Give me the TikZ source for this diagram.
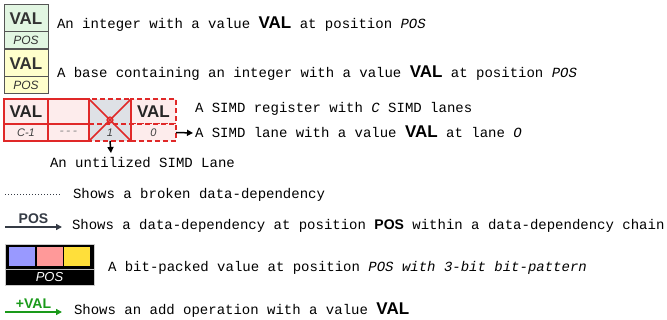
\documentclass[tikz,border=0pt]{standalone}
\usepackage{fontspec}
\setmainfont{Liberation Mono}
\newfontfamily\sansf{Liberation Sans}
\usetikzlibrary{arrows.meta,calc}
\definecolor{gfill}{HTML}{E2F6E2}
\definecolor{yfill}{HTML}{FFFFCC}
\definecolor{boxdraw}{HTML}{555555}
\definecolor{simdred}{HTML}{E02828}
\definecolor{simdfill}{HTML}{FDECEC}
\definecolor{lanegray}{HTML}{DEE1E6}
\definecolor{depcol}{HTML}{353B45}
\definecolor{addgreen}{HTML}{1A9A1A}
\definecolor{bitblue}{HTML}{9999FF}
\definecolor{bitpink}{HTML}{FF9999}
\definecolor{bityellow}{HTML}{FFDF3A}
\newcommand{\valtxt}{{\sansf\bfseries\fontsize{17}{17}\selectfont VAL}}
\newcommand{\postxt}{{\sansf\itshape\fontsize{12}{12}\selectfont POS}}
\begin{document}
\begin{tikzpicture}[x=1pt,y=-1pt,
  every node/.style={inner sep=0pt, outer sep=0pt},
  txt/.style={anchor=base west, font=\fontsize{14}{16}\selectfont},
  valcell/.style={draw=boxdraw, line width=1pt, minimum width=44pt, minimum height=27pt, anchor=north west, text=black!80},
  poscell/.style={draw=boxdraw, line width=1pt, minimum width=44pt, minimum height=17pt, anchor=north, text=black!80},
  lanetop/.style={minimum width=#1, minimum height=25pt, anchor=north west, fill=simdfill, text=black!85},
  lanebot/.style={minimum width=#1, minimum height=17pt, anchor=north, fill=simdfill, font=\sansf\itshape\fontsize{11}{11}\selectfont, text=black!75},
  solidlane/.style={draw=simdred, line width=2pt},
  dashlane/.style={draw=simdred, line width=1.6pt, dash pattern=on 5pt off 3pt},
  arr/.style={-{Triangle[length=6pt,width=6pt]}, line width=1.5pt},
  bitsq/.style={minimum width=26pt, minimum height=19pt, anchor=north west}
]
\useasboundingbox (0,0) rectangle (667,320);

% integer box
\node[valcell, fill=gfill] (g1) at (4,5) {\valtxt};
\node[poscell, fill=gfill] (g2) at (g1.south) {\postxt};
\node[txt] (t1) at (57,29) {An integer with a value \valtxt{} at position \textit{POS}};

% base box
\node[valcell, fill=yfill] (y1) at (4,50) {\valtxt};
\node[poscell, fill=yfill] (y2) at (y1.south) {\postxt};
\node[txt] (t2) at (57,78) {A base containing an integer with a value \valtxt{} at position \textit{POS}};

% SIMD register
\node[lanetop=44pt, solidlane] (c1) at (4,99) {\valtxt};
\node[lanebot=44pt, solidlane] (c1b) at (c1.south) {C-1};
\node[lanetop=41pt, solidlane] (cd) at (48,99) {};
\node[lanebot=41pt, solidlane, text=black!50, font=\itshape\fontsize{11}{11}\selectfont] (cdb) at (cd.south) {{-}{-}{-}};
\node[lanetop=42pt, fill=lanegray] (l1) at (89,99) {};
\node[lanebot=42pt, fill=lanegray] (l1b) at (l1.south) {1};
\node[lanetop=45pt, dashlane] (l0) at (131,99) {\valtxt};
\node[lanebot=45pt, dashlane] (l0b) at (l0.south) {0};
\draw[dashlane] (l1.north west) rectangle (l1b.south east);
\draw[simdred, line width=1.2pt, dash pattern=on 5pt off 3pt] (l1.south west) -- (l1.south east);
\draw[simdred, line width=1.6pt] (l1.north west) -- (l1b.south east);
\draw[simdred, line width=1.6pt] (l1.north east) -- (l1b.south west);
\node[draw=simdred, line width=1.2pt, circle, minimum size=6pt] (xc) at ($(l1.north west)!0.5!(l1b.south east)$) {};
\draw[simdred, line width=2pt] (c1.north west) rectangle (cdb.south east);

\coordinate (a1) at (193,133);
\draw[arr] (l0b.east) -- (a1);
\node[txt] (t3) at (195,113) {A SIMD register with \textit{C} SIMD lanes};
\node[txt] (t4) at (195,138) {A SIMD lane with a value \valtxt{} at lane \textit{O}};
\coordinate (a2) at (111,153);
\draw[arr] (l1b.south) -- (a2);
\node[txt] (t5) at (50,168) {An untilized SIMD Lane};

% broken dependency
\coordinate (d1) at (5,195);
\coordinate (d2) at (60,195);
\draw[depcol, line width=1pt, dotted] (d1) -- (d2);
\node[txt] (t6) at (73,199) {Shows a broken data-dependency};

% dependency at position
\coordinate (p1) at (5,227);
\coordinate (p2) at (62,227);
\draw[arr, depcol] (p1) -- node[above=3pt, text=depcol, font=\sansf\bfseries\fontsize{14}{14}\selectfont] (pl) {POS} (p2);
\node[txt] (t7) at (72,230) {Shows a data-dependency at position {\sansf\bfseries POS} within a data-dependency chain};

% bit-packed value
\node[draw=black!20, line width=1pt, fill=black, minimum width=89pt, minimum height=41pt, anchor=north west] (bp) at (5,245) {};
\node[bitsq, fill=bitblue] (b1) at (9,247) {};
\node[bitsq, fill=bitpink] (b2) at (37,247) {};
\node[bitsq, fill=bityellow] (b3) at (64,247) {};
\draw[black!25, line width=0.8pt] (bp.west |- 0,269) -- (bp.east |- 0,269);
\node[text=white, font=\sansf\itshape\fontsize{13}{13}\selectfont] (bpl) at (49.5,277.5) {POS};
\node[txt] (t8) at (108,272) {A bit-packed value at position \textit{POS with 3-bit bit-pattern}};

% add operation
\coordinate (v1) at (5,312);
\coordinate (v2) at (62,312);
\draw[arr, addgreen] (v1) -- node[above=3pt, text=addgreen, font=\sansf\bfseries\fontsize{14}{14}\selectfont] (vl) {+VAL} (v2);
\node[txt] (t9) at (74,315) {Shows an add operation with a value \valtxt};
\end{tikzpicture}
\end{document}
